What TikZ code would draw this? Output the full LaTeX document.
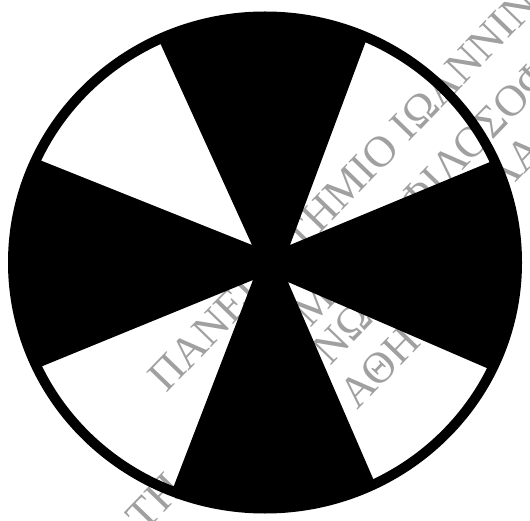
\documentclass[tikz,border=0pt]{standalone}
\usepackage{fontspec}
\usepackage{tikz}
\usetikzlibrary{calc}
\newfontfamily\wmfont{Liberation Serif}
\definecolor{wmGray}{HTML}{A0A0A0}
\tikzset{
  wmtext/.style={text=wmGray, font=\wmfont\fontsize{44}{44}\selectfont,
    inner sep=0pt, rotate=46},
  crossdisc/.style={fill=black, even odd rule},
}
\begin{document}
\begin{tikzpicture}[x=1pt,y=1pt]
  \useasboundingbox (0,0) rectangle (530,520);
  \fill[white] (0,0) rectangle (530,520);
  % watermark, lies under the black parts
  \node[wmtext, anchor=base west] (wmuniv) at (166,126) {ΠΑΝΕΠΙΣΤΗΜΙΟ ΙΩΑΝΝΙΝΩΝ};
  \node[wmtext, anchor=base west] (wmdept) at (292,172) {ΤΜΗΜΑ ΦΙΛΟΣΟΦΙΑΣ};
  \node[wmtext] (wmnu) at (342,187) {ΝΩ};
  \node[wmtext] (wmlam) at (514,356) {ΛΑ};
  \node[wmtext] (wmtheta) at (380,153) {ΑΘΗ};
  \node[wmtext] (wmtau) at (155,18) {ΤΗ};
  % disc: ring and cross, white sectors cut out
  \coordinate (ctr) at (265,257.5);
  \fill[crossdisc] (ctr) ellipse [x radius=257, y radius=251]
    \foreach \tx/\ty/\a/\b in {252/275/155/115, 290/275/66/24.6,
                               288/238/-26/-64, 253/240/205.5/248.3} {
      (\tx,\ty) -- ($(ctr)+(\a:247 and 241)$)
        arc [start angle=\a, end angle=\b, x radius=247, y radius=241] -- cycle
    };
\end{tikzpicture}
\end{document}
